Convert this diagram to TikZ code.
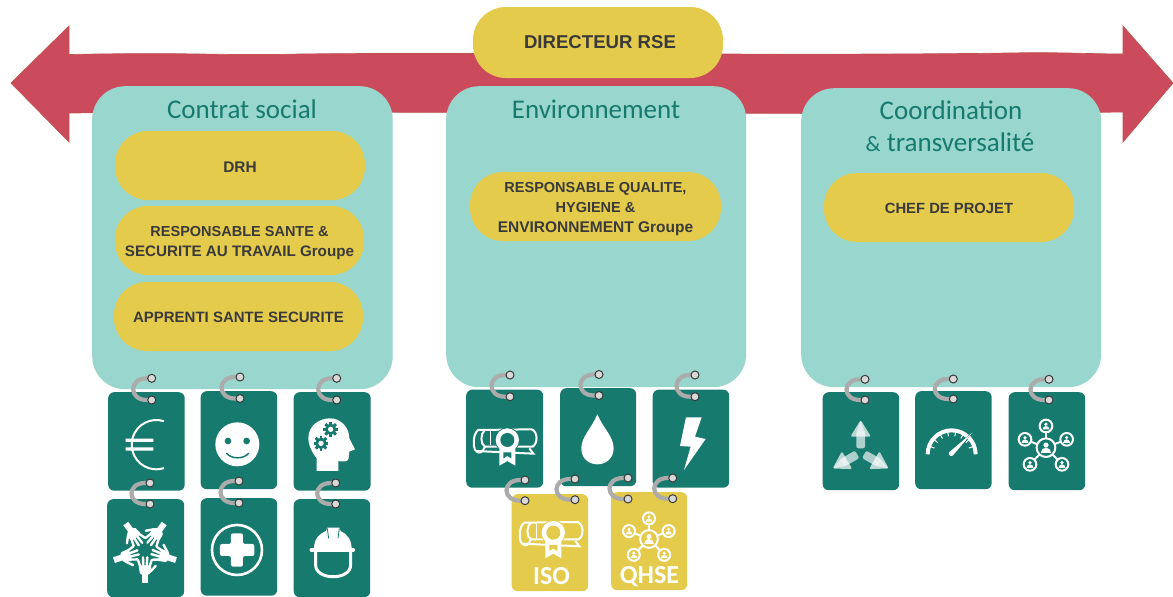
\documentclass[tikz,border=0pt]{standalone}
\usepackage{fontspec}
\usetikzlibrary{calc}
\setmainfont{Liberation Sans}
\newfontfamily\headfont{Carlito}
\definecolor{rsered}{HTML}{CB4A5C}
\definecolor{rseedge}{HTML}{BE5450}
\definecolor{panelc}{HTML}{98D6CE}
\definecolor{tealc}{HTML}{167A6E}
\definecolor{yellc}{HTML}{E4CB4C}
\definecolor{inkc}{HTML}{3A3A3A}
\definecolor{ringc}{HTML}{ABABAB}
\tikzset{
  panelbox/.style={fill=panelc,rounded corners=33pt,inner sep=0pt,anchor=north west},
  pillbox/.style={fill=yellc,rounded corners=33pt,inner sep=0pt,align=center,text=inkc,font=\fontsize{14.5}{20}\selectfont\bfseries},
  headtext/.style={text=tealc,inner sep=0pt,align=center,font=\headfont\fontsize{27}{32}\selectfont},
  cardbox/.style={rounded corners=6pt,inner sep=0pt,anchor=north west},
  ringline/.style={draw=ringc,line width=4.2pt},
  ringhole/.style={circle,fill=gray!30,draw=inkc,line width=1pt,minimum size=8pt,inner sep=0pt},
  cardtext/.style={text=white,inner sep=0pt,font=\headfont\bfseries\fontsize{26}{30}\selectfont}
}
% name, x1, y1, x2, y2, colour
\newcommand{\tagcard}[6]{\node[cardbox,fill=#6,minimum width=#4pt-#2pt,minimum height=#5pt-#3pt] (#1) at (#2,#3) {};}
% name, x, y1, y2
\newcommand{\ringlink}[4]{%
  \coordinate (#1t) at (#2,#3);\coordinate (#1b) at (#2,#4);
  \draw[ringline] (#1t) -- ($(#1t)+(-5,0)$) .. controls ($(#1t)+(-23,0)$) and ($(#1b)+(-23,0)$) .. ($(#1b)+(-5,0)$) -- (#1b);
  \node[ringhole] (#1u) at (#1t) {};\node[ringhole] (#1l) at (#1b) {};}
% gear at centre in zoom coordinates
\newcommand{\gearicon}[2]{%
  \foreach \a in {0,45,...,315}{\fill[tealc,rotate around={\a:(#1,#2)}] (#1-4,#2-22) rectangle (#1+4,#2+22);}
  \fill[tealc] (#1,#2) circle (17);\fill[white] (#1,#2) circle (8);}
\newcommand{\diplomaicon}[1]{%
  \draw[white,line width=2pt,line join=round,fill=none]
   (78,258) .. controls (68,250) and (68,205) .. (85,195) -- (245,193) .. controls (264,200) and (264,235) .. (248,245) -- (105,245) .. controls (90,238) and (92,205) .. (103,197);
  \draw[white,line width=2pt] (78,258) -- (250,266) -- (238,250);
  \draw[white,line width=2pt] (78,258) .. controls (88,268) and (98,262) .. (105,245);
  \draw[white,line width=1.6pt] (122,197) -- (122,240);
  \fill[#1] (172,225) circle (38);
  \fill[white] (148,250) -- (148,302) -- (172,288) -- (196,302) -- (196,250) -- cycle;
  \fill[#1] (160,262) -- (160,280) -- (172,273) -- (184,280) -- (184,262) -- cycle;
  \fill[white] (172,225) circle (35);\fill[#1] (172,225) circle (21);}
% satellite: x y radius bg
\newcommand{\satellite}[4]{%
  \draw[white,line width=2pt,fill=#4] (#1,#2) circle (#3);
  \fill[white] (#1,#2-0.28*#3) circle (0.28*#3);
  \fill[white] (#1-0.55*#3,#2+0.55*#3) arc[start angle=180,end angle=360,radius=0.55*#3] -- cycle;}
\newcommand{\networkicon}[1]{%
  \foreach \p in {(0,-65),(-63,-25),(62,-25),(-48,50),(48,50)}{\draw[white,line width=2pt] (0,0) -- \p;}
  \satellite{0}{-65}{19}{#1}\satellite{-63}{-25}{19}{#1}\satellite{62}{-25}{19}{#1}
  \satellite{-48}{50}{19}{#1}\satellite{48}{50}{19}{#1}\satellite{0}{0}{28}{#1}}
\newcommand{\handicon}{%
  \fill[white] (-9,98) -- (9,98) -- (9,70) -- (-9,70) -- cycle;
  \fill[white,rounded corners=1.5pt] (-15,74) -- (15,74) -- (19,46) -- (-19,46) -- cycle;
  \draw[white,line width=2.4pt,line cap=round] (-14,50) -- (-21,30) (-5,48) -- (-6,22) (5,48) -- (7,22) (14,50) -- (20,30) (15,66) -- (32,48);}
\newcommand{\fanarrow}[1]{%
  \begin{scope}[rotate=#1]
   \fill[white,opacity=0.65,rounded corners=2pt] (-13,-12) rectangle (13,-62);
   \fill[white,opacity=0.7,rounded corners=2pt] (-31,-47) -- (31,-47) -- (0,-97) -- cycle;
   \fill[white,opacity=0.55] (-13,-60) -- (13,-60) -- (0,-95) -- cycle;
  \end{scope}}
\begin{document}
\begin{tikzpicture}[x=1pt,y=-1pt]
\useasboundingbox (0,0) rectangle (1173,597);
% great arrow
\path[fill=rsered,draw=rseedge,line width=0.7pt] (11,83) -- (69,26) -- (69,54.5)
  .. controls (200,52) and (220,56) .. (300,54) .. controls (500,52) and (800,56) .. (1010,53) .. controls (1060,52) and (1090,54) .. (1123,54)
  -- (1123,26) -- (1173,83) -- (1123,142) -- (1123,112) .. controls (800,116) and (400,110) .. (69,113) -- (69,142) -- cycle;
\node[pillbox,minimum width=250pt,minimum height=71pt,font=\fontsize{18.6}{22}\selectfont\bfseries] (director) at (598,42.5) {\hspace*{4pt}DIRECTEUR RSE};
% panels
\node[panelbox,minimum width=300.5pt,minimum height=303pt] (contrat) at (92,86) {};
\node[panelbox,minimum width=300pt,minimum height=301pt] (envir) at (446,86) {};
\node[panelbox,minimum width=300pt,minimum height=299pt] (coord) at (801,88) {};
\node[headtext] (h1) at (242,109) {Contrat social};
\node[headtext] (h2) at (596,109) {Environnement};
\node[headtext] (h3) at (951,110) {Coordination};
\node[headtext] (h4) at (950,142) {{\fontsize{22}{26}\selectfont\&} transversalité};
% pills
\node[pillbox,minimum width=250pt,minimum height=69pt,font=\fontsize{15.4}{20}\selectfont\bfseries,yshift=0pt] (drh) at (240,165.5) {\rule{0pt}{13pt}DRH};
\node[pillbox,minimum width=249pt,minimum height=69pt] (sante) at (239.5,240.5) {\rule{0pt}{15pt}RESPONSABLE SANTE \&\\{\fontsize{15.2}{20}\selectfont SECURITE AU TRAVAIL Groupe}};
\node[pillbox,minimum width=249pt,minimum height=69pt,font=\fontsize{15}{20}\selectfont\bfseries] (apprenti) at (238.5,316.5) {\rule{0pt}{13pt}APPRENTI SANTE SECURITE};
\node[pillbox,minimum width=251pt,minimum height=69pt] (qualite) at (595.5,206.5) {\rule{0pt}{15pt}RESPONSABLE QUALITE,\\HYGIENE \&\\{\fontsize{15.5}{20}\selectfont ENVIRONNEMENT Groupe}};
\node[pillbox,minimum width=250pt,minimum height=69pt,font=\fontsize{14.8}{20}\selectfont\bfseries] (chef) at (949,207.5) {\rule{0pt}{12pt}CHEF DE PROJET};
% cards
\tagcard{c1}{108}{392}{184.5}{490.5}{tealc}
\tagcard{c2}{200.5}{391}{277}{489}{tealc}
\tagcard{c3}{293.5}{392}{370.5}{490.5}{tealc}
\tagcard{c4}{107}{499}{184}{597}{tealc}
\tagcard{c5}{200.5}{498}{277}{595.5}{tealc}
\tagcard{c6}{293.5}{499}{370}{597}{tealc}
\tagcard{e1}{466}{389.5}{543}{487.5}{tealc}
\tagcard{e2}{560}{388}{636}{486}{tealc}
\tagcard{e3}{652.5}{389.5}{729}{487.5}{tealc}
\tagcard{y1}{511.5}{494}{588}{591}{yellc}
\tagcard{y2}{611}{492}{687}{590}{yellc}
\tagcard{k1}{822.5}{392}{899}{490}{tealc}
\tagcard{k2}{915}{391}{991.5}{489}{tealc}
\tagcard{k3}{1008.5}{392}{1085}{490}{tealc}
% icons of Contrat social
\begin{scope}[shift={(90,360)},scale=0.3333]
 \draw[white,line width=2pt] ([shift=(288:74)]199,254) arc[start angle=288,end angle=72,radius=74];
 \fill[white] (107,236) rectangle (190,246) (107,262) rectangle (190,272);
 % smiley
 \fill[white] (442,253) circle (66);
 \fill[tealc] (414,243) circle (10) (470,243) circle (10);
 \draw[tealc,line width=1.5pt,line cap=round] (410,280) .. controls (425,298) and (460,298) .. (476,280);
 % head
 \fill[white] (680,333) -- (680,295) .. controls (662,272) and (655,250) .. (655,235) .. controls (655,195) and (690,175) .. (720,175)
   .. controls (755,175) and (778,205) .. (778,235) -- (795,268) -- (778,275) -- (776,295) .. controls (775,305) and (760,306) .. (745,303) -- (745,333) -- cycle;
 \gearicon{722}{208}\gearicon{693}{250}
 % hands
 \foreach \r in {0,72,144,216,288}{\begin{scope}[shift={(165,570)},rotate=\r]\handicon\end{scope}}
 % medical
 \draw[white,line width=2.6pt] (441,570) circle (75);
 \fill[white,rounded corners=2pt] (423,520) -- (459,520) -- (459,552) -- (493,552) -- (493,588) -- (459,588) -- (459,620) -- (423,620) -- (423,588) -- (390,588) -- (390,552) -- (423,552) -- cycle;
 % helmet
 \fill[white] (672,566) .. controls (672,535) and (690,520) .. (708,513) -- (712,503) -- (748,503) -- (752,513) .. controls (772,522) and (785,540) .. (785,566) -- cycle;
 \draw[tealc,line width=0.8pt] (712,505) -- (716,535) (748,505) -- (744,535);
 \draw[white,line width=3.6pt,line cap=round] (664,570) -- (790,570);
 \draw[white,line width=3pt] (677,575) -- (677,615) .. controls (677,662) and (782,662) .. (782,615) -- (782,575);
\end{scope}
% icons of Environnement
\begin{scope}[shift={(450,365)},scale=0.3333]
 \diplomaicon{tealc}
 \fill[white] (442,148) .. controls (425,190) and (394,215) .. (394,250) .. controls (394,282) and (418,298) .. (442,298) .. controls (466,298) and (491,282) .. (491,250) .. controls (491,215) and (460,190) .. (442,148) -- cycle;
 \fill[white] (708,157) -- (755,157) -- (735,215) -- (767,222) -- (702,315) -- (722,245) -- (690,243) -- cycle;
 \begin{scope}[shift={(138,278)}]\diplomaicon{yellc}\end{scope}
 \begin{scope}[shift={(597,522)},scale=0.95]\networkicon{yellc}\end{scope}
\end{scope}
\node[cardtext] (iso) at (551.5,576.5) {ISO};
\node[cardtext] (qhse) at (649.5,576.5) {QHSE};
% icons of Coordination
\begin{scope}[shift={(810,365)},scale=0.3333]
 \begin{scope}[shift={(152,262)}]\fanarrow{0}\fanarrow{120}\fanarrow{240}\end{scope}
 \draw[white,line width=4pt] ([shift=(180:72)]425,268) arc[start angle=180,end angle=360,radius=72];
 \foreach \a in {200,220,...,340}{\draw[white,line width=1pt] ([shift=(\a:70)]425,268) -- ([shift=(\a:55)]425,268);}
 \draw[tealc,line width=1.4pt] ([shift=(313:62)]425,268) -- ([shift=(313:84)]425,268);
 \fill[white] (417,262) -- (487,203) -- (428,272) .. controls (420,275) and (414,270) .. (417,262) -- cycle;
 \begin{scope}[shift={(708,248)}]\networkicon{tealc}\end{scope}
\end{scope}
% rings
\ringlink{ra}{151.7}{378.3}{400}
\ringlink{rb}{240}{377}{398.5}
\ringlink{rc}{336.7}{378.3}{400}
\ringlink{rd}{150}{483}{504}
\ringlink{re}{239}{481}{503}
\ringlink{rf}{335.7}{483}{504}
\ringlink{rg}{510}{375}{396.7}
\ringlink{rh}{599}{374.5}{395.5}
\ringlink{ri}{695}{375}{396.7}
\ringlink{rj}{525}{480}{500.7}
\ringlink{rk}{575}{479}{499.7}
\ringlink{rl}{628}{478}{499}
\ringlink{rm}{672.7}{478}{498.7}
\ringlink{rn}{865}{379.3}{400}
\ringlink{ro}{953.3}{379}{399}
\ringlink{rp}{1049}{379.3}{400}
\end{tikzpicture}
\end{document}
